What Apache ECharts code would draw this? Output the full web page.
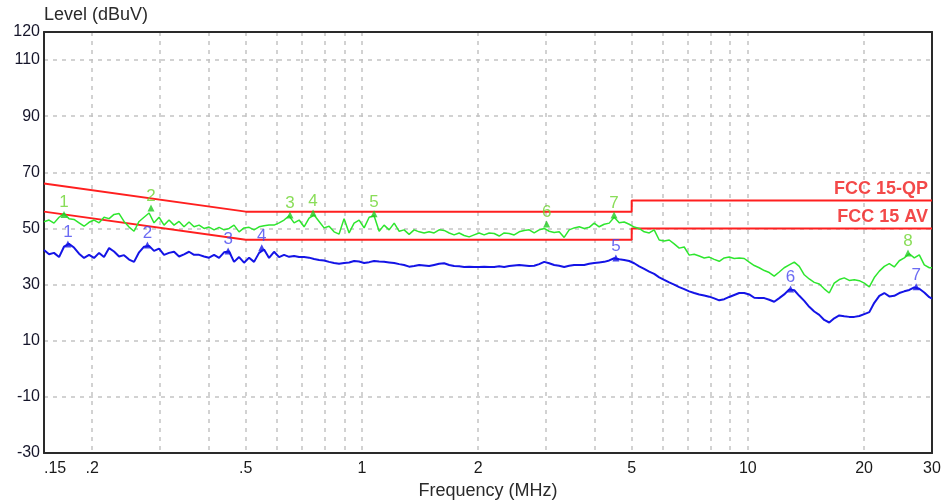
<!DOCTYPE html>
<html><head><meta charset="utf-8">
<script src="https://cdn.jsdelivr.net/npm/echarts@6/dist/echarts.min.js"></script>
<style>html,body{margin:0;padding:0;background:#fff}#c{width:945px;height:501px}</style>
</head><body><div id="c"></div>
<script>
// Frequencies (MHz) of the sampled traces
const freqMHz = [
0.150,0.1546,0.1592,0.1641,0.1690,0.1741,0.1794,0.1849,0.1905,0.1963,
0.2022,0.2084,0.2146,0.2212,0.2278,0.2348,0.2418,0.2492,0.2567,0.2645,
0.2725,0.2808,0.2892,0.2980,0.3070,0.3163,0.3259,0.3358,0.3459,0.3564,
0.3672,0.3784,0.3898,0.4016,0.4138,0.4264,0.4392,0.4526,0.4662,0.4804,
0.4949,0.5100,0.5253,0.5413,0.5576,0.5745,0.5919,0.6099,0.6283,0.6474,
0.6670,0.6873,0.7080,0.7295,0.7515,0.7744,0.7978,0.8220,0.8468,0.8725,
0.8989,0.9262,0.9542,0.9832,1.013,1.044,1.075,1.108,1.141,1.176,
1.212,1.249,1.286,1.325,1.365,1.407,1.449,1.493,1.538,1.585,
1.633,1.683,1.733,1.786,1.840,1.896,1.953,2.012,2.073,2.136,
2.201,2.268,2.336,2.407,2.480,2.555,2.632,2.712,2.794,2.879,
2.966,3.056,3.148,3.244,3.342,3.443,3.547,3.655,3.766,3.880,
3.997,4.118,4.243,4.372,4.504,4.641,4.781,4.926,5.075,5.229,
5.387,5.551,5.718,5.892,6.070,6.254,6.443,6.639,6.840,7.047,
7.260,7.481,7.707,7.941,8.181,8.429,8.684,8.948,9.218,9.498,
9.785,10.08,10.39,10.70,11.03,11.36,11.70,12.06,12.42,12.80,
13.19,13.59,14.00,14.42,14.86,15.31,15.77,16.25,16.74,17.25,
17.77,18.31,18.87,19.44,20.03,20.64,21.26,21.91,22.57,23.25,
23.95,24.68,25.43,26.20,26.99,27.81,28.65,29.52,30.0];

// Green trace (QP / peak) level in dBuV
const qpTrace = [
52.4,53.0,51.9,54.0,55.3,53.5,53.2,52.0,50.8,52.2,
53.0,52.0,54.0,53.5,55.0,55.3,52.5,50.5,49.0,52.5,
54.0,55.5,52.0,54.0,51.2,53.0,51.2,52.5,50.6,52.3,
50.6,51.2,50.0,50.5,49.5,50.4,49.5,50.0,51.2,48.8,
50.2,50.4,49.5,50.6,51.0,51.2,51.2,52.0,53.0,54.5,
52.0,53.0,50.6,53.7,54.8,52.5,50.2,50.8,48.8,48.0,
53.5,48.4,51.9,53.0,50.2,54.0,54.5,49.0,51.2,49.5,
51.9,49.0,49.5,47.9,49.5,48.8,48.4,48.8,48.4,49.5,
49.3,48.4,47.7,48.4,47.5,47.0,47.7,48.4,47.7,48.4,
48.2,47.3,48.4,48.2,47.7,48.8,49.3,49.5,48.4,49.5,
50.0,49.0,48.6,48.8,46.8,49.5,50.2,50.6,50.0,50.4,
51.9,50.6,51.5,51.9,54.0,52.0,52.3,51.5,50.5,50.0,
48.8,48.4,49.5,45.9,45.5,45.9,44.5,43.0,43.4,40.5,
40.8,40.2,39.5,39.8,39.0,38.3,39.5,39.8,39.3,39.5,
39.3,38.0,36.8,36.0,35.0,34.3,33.0,34.5,36.0,37.0,
38.0,36.5,33.5,32.0,30.8,30.2,28.5,27.0,30.5,31.8,
32.4,31.5,31.7,31.4,30.5,29.2,32.5,34.8,36.5,37.5,
36.3,38.5,39.5,41.0,39.5,40.6,37.0,36.0,36.0];

// Blue trace (AV) level in dBuV
const avTrace = [
42.3,40.8,41.3,39.8,43.5,44.5,43.2,41.0,39.5,40.6,
39.5,41.3,39.8,43.0,41.8,40.0,40.5,38.9,38.1,41.5,
43.5,43.8,42.0,42.8,40.6,41.3,41.7,40.0,40.8,41.7,
40.6,40.6,40.0,39.6,40.6,39.5,41.5,41.8,38.1,39.8,
37.8,39.6,38.1,41.3,42.5,39.5,41.7,39.8,40.6,39.9,
40.2,39.8,39.8,39.6,39.1,38.8,38.6,38.1,37.7,37.4,
37.7,37.9,38.4,38.2,37.7,38.0,38.4,38.2,38.1,37.9,
37.7,37.3,37.0,36.4,36.6,37.0,36.8,36.6,37.0,37.4,
37.6,37.0,36.6,36.5,36.3,36.4,36.3,36.3,36.4,36.3,
36.3,36.5,36.3,36.6,36.8,37.0,36.8,36.6,36.7,37.3,
38.1,37.6,37.0,36.7,36.3,36.7,37.0,37.0,37.0,37.4,
37.7,37.9,38.1,38.6,39.4,39.0,38.8,38.4,37.6,36.5,
35.6,34.6,33.8,32.6,31.7,30.8,30.0,29.1,28.4,27.6,
27.0,26.5,26.1,25.7,25.1,24.4,24.8,25.6,26.3,27.0,
27.0,26.5,25.3,25.2,25.2,24.6,23.9,25.2,26.5,28.3,
28.0,26.0,24.2,22.1,20.4,19.2,17.4,16.5,18.0,19.0,
18.7,18.5,18.5,18.8,19.5,20.2,23.5,26.0,27.0,25.8,
26.0,27.0,27.6,28.1,29.0,28.5,27.2,25.5,25.0];

// Marked peaks
const qpMarkFreq  = [0.169, 0.284, 0.651, 0.747, 1.075, 3.01, 4.50, 26.0];
const qpMarkLevel = [55.0, 57.3, 54.8, 55.5, 55.2, 51.6, 54.8, 41.3];
const avMarkFreq  = [0.173, 0.278, 0.450, 0.550, 4.55, 12.9, 27.3];
const avMarkLevel = [44.5, 44.1, 42.0, 43.1, 39.5, 28.4, 29.2];

// Limit lines
const limitFreq    = [0.15, 0.5, 5, 5, 30];
const qpLimitLevel = [66, 56, 56, 60, 60];
const avLimitLevel = [56, 46, 46, 50, 50];
const qpLimitName = 'FCC 15-QP';
const avLimitName = 'FCC 15 AV';

// Axis ticks
const xGridFreq  = [0.2,0.3,0.4,0.5,0.6,0.7,0.8,0.9,1,2,3,4,5,6,7,8,9,10,20];
const xLabelFreq = [0.15,0.2,0.5,1,2,5,10,20,30];
const yGrid  = [-10,10,30,50,70,90,110];
const yTicks = [-30,-10,10,30,50,70,90,110,120];

const L = Math.log10;
const pts = (fs, vs) => fs.map((f, i) => [L(f), vs[i]]);
function fmtFreq(v) {
  const f = Math.round(Math.pow(10, v) * 100) / 100;
  return f < 1 ? String(f).replace(/^0/, '') : String(Math.round(f));
}
const FONT = '"Liberation Sans", Arial, sans-serif';
const GREEN = '#2ee62e', BLUE = '#1414e6', RED = '#ff1f1f';
const FRAME = '#2a2a2a';

const chart = echarts.init(document.getElementById('c'));
const lastI = limitFreq.length - 1;
const xMin = L(0.15), xMax = L(30);
chart.setOption({
  animation: false,
  textStyle: { fontFamily: FONT },
  grid: { left: 44, right: 13, top: 32, bottom: 48, containLabel: false, outerBoundsMode: 'none' },
  xAxis: [{
    type: 'value', min: xMin, max: xMax, position: 'bottom',
    name: 'Frequency (MHz)', nameLocation: 'middle', nameGap: 29,
    nameTextStyle: { fontSize: 18, color: '#2a2a2a', fontFamily: FONT },
    axisLine: { show: true, onZero: false, lineStyle: { color: FRAME, width: 2 } },
    axisTick: { show: false },
    axisLabel: { customValues: xLabelFreq.map(L), formatter: fmtFreq, margin: 8, fontSize: 16, color: '#1a1a1a', alignMinLabel: 'left', fontFamily: FONT },
    splitLine: { show: false }
  }, {
    // grid lines + top frame line
    type: 'value', min: xMin, max: xMax, position: 'top',
    axisLine: { show: true, onZero: false, lineStyle: { color: FRAME, width: 2 } },
    axisTick: { show: false, customValues: xGridFreq.map(L) },
    axisLabel: { show: false },
    splitLine: { show: true, lineStyle: { color: '#c4c4c4', type: [4, 5], width: 1.5 } }
  }],
  yAxis: [{
    type: 'value', min: -30, max: 120, position: 'left',
    name: 'Level (dBuV)', nameLocation: 'end', nameGap: 1,
    nameTextStyle: { fontSize: 18, color: '#2a2a2a', align: 'left', fontFamily: FONT },
    axisLine: { show: true, onZero: false, lineStyle: { color: FRAME, width: 2 } },
    axisTick: { show: false },
    axisLabel: { customValues: yTicks, margin: 4, fontSize: 16, color: '#15152a', fontFamily: FONT },
    splitLine: { show: false }
  }, {
    type: 'value', min: -30, max: 120, position: 'right',
    axisLine: { show: true, onZero: false, lineStyle: { color: FRAME, width: 2 } },
    axisTick: { show: false, customValues: yGrid },
    axisLabel: { show: false },
    splitLine: { show: true, lineStyle: { color: '#c4c4c4', type: [4, 5], width: 1.5 } }
  }],
  series: [
    { type: 'line', data: pts(limitFreq, qpLimitLevel), symbol: 'none', lineStyle: { color: RED, width: 2 }, z: 3 },
    { type: 'line', data: pts(limitFreq, avLimitLevel), symbol: 'none', lineStyle: { color: RED, width: 2 }, z: 3 },
    { type: 'line', data: pts(freqMHz, qpTrace), symbol: 'none', lineStyle: { color: GREEN, width: 1.5 }, z: 4 },
    { type: 'line', data: pts(freqMHz, avTrace), symbol: 'none', lineStyle: { color: BLUE, width: 2 }, z: 5 },
    { type: 'scatter', data: pts(qpMarkFreq, qpMarkLevel), symbol: 'triangle', symbolSize: 7,
      itemStyle: { color: '#22cc22' }, z: 6,
      label: { show: true, position: 'top', distance: 0, formatter: p => String(p.dataIndex + 1), color: '#6cd42e', fontSize: 17, fontFamily: FONT } },
    { type: 'scatter', data: pts(avMarkFreq, avMarkLevel), symbol: 'triangle', symbolSize: 7,
      itemStyle: { color: BLUE }, z: 6,
      label: { show: true, position: 'top', distance: 0, formatter: p => String(p.dataIndex + 1), color: '#4646f0', fontSize: 17, fontFamily: FONT } },
    { type: 'scatter', symbolSize: 1, itemStyle: { color: 'rgba(0,0,0,0)' }, z: 7, silent: true,
      data: [[L(limitFreq[lastI]), qpLimitLevel[lastI]], [L(limitFreq[lastI]), avLimitLevel[lastI]]],
      label: { show: true, position: 'top', distance: 2, align: 'right', offset: [-4, 0],
        formatter: p => p.dataIndex === 0 ? qpLimitName : avLimitName,
        color: '#f01c1c', fontSize: 18, fontWeight: 'bold', fontFamily: FONT } }
  ]
});
</script></body></html>
